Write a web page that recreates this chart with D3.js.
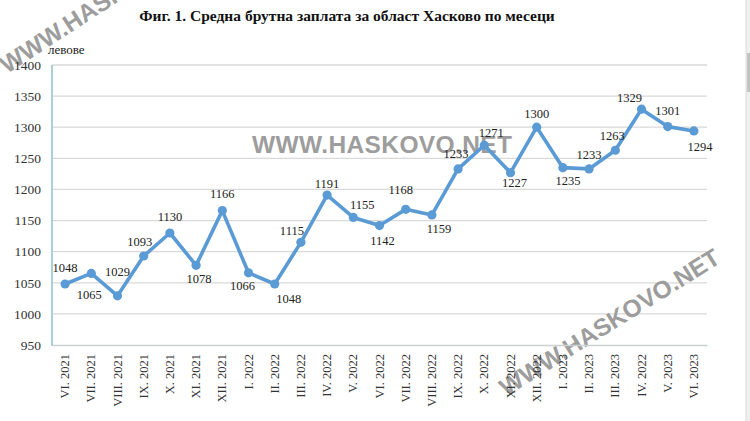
<!DOCTYPE html>
<html><head><meta charset="utf-8">
<script src="https://cdn.jsdelivr.net/npm/d3@7"></script>
<style>body{margin:0;background:#fff}svg{display:block}</style>
</head><body>
<svg id="c" width="750" height="421"></svg>
<script>
const categories = ["VI. 2021","VII. 2021","VIII. 2021","IX. 2021","X. 2021","XI. 2021","XII. 2021",
  "I. 2022","II. 2022","III. 2022","IV. 2022","V. 2022","VI. 2022","VII. 2022","VIII. 2022","IX. 2022",
  "X. 2022","XI. 2022","XII. 2022","I. 2023","II. 2023","III. 2023","IV. 2022","V. 2023","VI. 2023"];
const values = [1048,1065,1029,1093,1130,1078,1166,1066,1048,1115,1191,1155,1142,1168,1159,1233,
  1271,1227,1300,1235,1233,1263,1329,1301,1294];
const yTicks = [950,1000,1050,1100,1150,1200,1250,1300,1350,1400];
// data-label placement relative to each marker (label centre offsets)
const labelDx = [0,-2,0,-4,0,3,0,-6,14,-9,0,9,3,-5,7,-2,7,4,0,5,0,-3,-12,0,6];
const labelDy = [-16,21,-24,-14,-16,13,-17,13,15,-12,-11,-13,15,-20,14,-15,-13,10,-14,13,-14,-15,-12,-16,16];
const titleText = "Фиг. 1. Средна брутна заплата за област Хасково по месеци";
const unitText = "левове";
const watermark = "WWW.HASKOVO.NET";

const svg = d3.select("#c");
const serif = "'Liberation Serif','Times New Roman',serif";
const L = 52, R = 707, T = 65, B = 345;

// categories contain a duplicate label ("IV. 2022"), so the band scale works on indices
const idx = categories.map((c, i) => i);
const x = d3.scaleBand().domain(idx).range([L, R]);
const y = d3.scaleLinear().domain([950, 1400]).range([B, T]);
const cx = i => x(i) + x.bandwidth() / 2;

svg.append("rect").attr("width", 750).attr("height", 421).attr("fill", "#fff");

// gridlines
svg.append("g").selectAll("line").data(yTicks.filter(v => v > 950)).join("line")
  .attr("x1", L).attr("x2", R).attr("y1", d => y(d)).attr("y2", d => y(d))
  .attr("stroke", "#d9d9d9").attr("stroke-width", 1.3);

// watermarks (under the data)
const wm = svg.append("g").attr("font-family", "'Liberation Sans',Arial,sans-serif")
  .attr("font-weight", "bold").attr("font-size", 24.5).attr("fill", "#9d9d9d")
  .attr("stroke", "#ffffff").attr("stroke-width", 0.6).attr("paint-order", "stroke");
wm.append("text").attr("x", 252).attr("y", 153).attr("textLength", 260).text(watermark);
wm.append("text").attr("transform", "translate(7,74) rotate(-33)").text(watermark);
wm.append("text").attr("transform", "translate(722,262) rotate(-32)").attr("text-anchor", "end").text(watermark);

// axes
const yAxis = svg.append("g").attr("transform", `translate(${L},0)`)
  .call(d3.axisLeft(y).tickValues(yTicks).tickSize(0).tickPadding(11).tickFormat(d3.format("d")));
yAxis.select(".domain").remove();
yAxis.selectAll("text").attr("font-family", serif).attr("font-size", 13.5).attr("fill", "#333");

const xAxis = svg.append("g").attr("transform", `translate(0,${B})`)
  .call(d3.axisBottom(x).tickSize(0).tickPadding(0).tickFormat(i => categories[i]));
xAxis.select(".domain").attr("stroke", "#c9d3d3").attr("stroke-width", 1.5);
xAxis.selectAll("text").attr("font-family", serif).attr("font-size", 12.5).attr("fill", "#333")
  .attr("text-anchor", "end").attr("transform", "rotate(-90)")
  .attr("x", -9).attr("y", 0).attr("dy", "0.33em");

svg.append("line").attr("x1", L).attr("x2", L).attr("y1", T).attr("y2", B + 1)
  .attr("stroke", "#a9d0d5").attr("stroke-width", 2);

// line + markers
const line = d3.line().x((d, i) => cx(i)).y(d => y(d));
svg.append("path").datum(values).attr("d", line).attr("fill", "none")
  .attr("stroke", "#5b9bd5").attr("stroke-width", 3.6).attr("stroke-linejoin", "round");
svg.append("g").selectAll("circle").data(values).join("circle")
  .attr("cx", (d, i) => cx(i)).attr("cy", d => y(d)).attr("r", 4.6)
  .attr("fill", "#5b9bd5");

// data labels
svg.append("g").selectAll("text").data(values).join("text")
  .attr("x", (d, i) => cx(i) + labelDx[i])
  .attr("y", (d, i) => y(d) + labelDy[i])
  .attr("dy", "0.35em")
  .attr("text-anchor", "middle").attr("font-family", serif).attr("font-size", 12.5)
  .attr("fill", "#222").text(d => d);

// title and unit
svg.append("text").attr("x", 347).attr("y", 21).attr("text-anchor", "middle")
  .attr("font-family", serif).attr("font-weight", "bold").attr("font-size", 15.5)
  .attr("fill", "#111").text(titleText);
svg.append("text").attr("x", 48).attr("y", 54).attr("font-family", serif).attr("font-size", 13)
  .attr("fill", "#222").text(unitText);

// right edge strip
svg.append("rect").attr("x", 746).attr("y", 0).attr("width", 4).attr("height", 421).attr("fill", "#efefef");
svg.append("line").attr("x1", 746).attr("x2", 746).attr("y1", 0).attr("y2", 421).attr("stroke", "#dcdcdc");
svg.append("rect").attr("x", 747).attr("y", 53).attr("width", 3).attr("height", 39).attr("fill", "#c4c4c4");
</script>
</body></html>
